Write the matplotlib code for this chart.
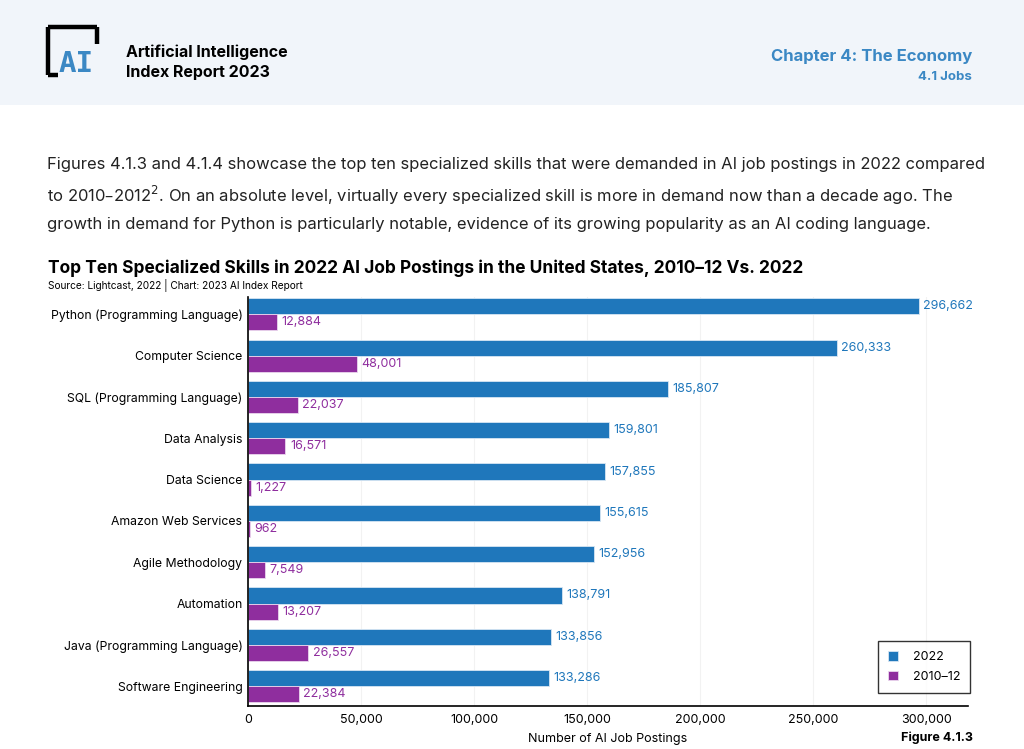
import numpy as np
import matplotlib
matplotlib.use("Agg")
import matplotlib.pyplot as plt
from matplotlib.patches import Rectangle
from matplotlib.lines import Line2D

plt.rcParams['font.family'] = ['Inter', 'DejaVu Sans']

skills = ["Python (Programming Language)", "Computer Science", "SQL (Programming Language)",
          "Data Analysis", "Data Science", "Amazon Web Services", "Agile Methodology",
          "Automation", "Java (Programming Language)", "Software Engineering"]
postings_2022 = [296662, 260333, 185807, 159801, 157855, 155615, 152956, 138791, 133856, 133286]
postings_2010 = [12884, 48001, 22037, 16571, 1227, 962, 7549, 13207, 26557, 22384]

BLUE = "#1f77bb"
PURPLE = "#8f2e9e"
HEAD_BLUE = "#3b88c4"

fig = plt.figure(figsize=(10.24, 7.49), dpi=100)
W, H = 1024, 749

def fx(x):
    return x / W

def fy(y):
    return 1 - y / H

# header band
fig.patches.append(Rectangle((0, fy(105)), 1, 105 / H, transform=fig.transFigure,
                             facecolor="#f1f5fa", edgecolor="none", zorder=0))

# logo
logo = [((48, 27), (48, 75)), ((48, 27), (97, 27)), ((97, 27), (97, 44)), ((48, 75), (58, 75))]
for (x0, y0), (x1, y1) in logo:
    fig.add_artist(Line2D([fx(x0), fx(x1)], [fy(y0), fy(y1)], color="black", lw=3.2,
                          solid_capstyle="butt", transform=fig.transFigure))
fig.text(fx(59), fy(64), "AI", fontsize=21, fontweight="bold", color=HEAD_BLUE,
         family="DejaVu Sans Mono", va="center", ha="left")

fig.text(fx(126), fy(52), "Artificial Intelligence", fontsize=11.5, fontweight="bold", va="center")
fig.text(fx(126), fy(72), "Index Report 2023", fontsize=11.5, fontweight="bold", va="center")
fig.text(fx(972), fy(56), "Chapter 4: The Economy", fontsize=12, fontweight="bold",
         color=HEAD_BLUE, ha="right", va="center")
fig.text(fx(972), fy(77), "4.1 Jobs", fontsize=9.5, fontweight="bold", color=HEAD_BLUE,
         ha="right", va="center")

para = ["Figures 4.1.3 and 4.1.4 showcase the top ten specialized skills that were demanded in AI job postings in 2022 compared",
        "to 2010\u20132012$^{2}$. On an absolute level, virtually every specialized skill is more in demand now than a decade ago. The",
        "growth in demand for Python is particularly notable, evidence of its growing popularity as an AI coding language."]
for i, line in enumerate(para):
    fig.text(fx(47), fy(165 + 30 * i), line, fontsize=11.95, color="#222222", va="center")

fig.text(fx(48), fy(268), "Top Ten Specialized Skills in 2022 AI Job Postings in the United States, 2010\u201312 Vs. 2022",
         fontsize=12.5, fontweight="bold", va="center")
fig.text(fx(48), fy(286), "Source: Lightcast, 2022 | Chart: 2023 AI Index Report", fontsize=7.3, va="center")

ax = fig.add_axes([fx(248), fy(706), (968 - 248) / W, (706 - 297) / H])
y = np.arange(len(skills))
h = 0.39
b1 = ax.barh(y - h / 2, postings_2022, height=h, color=BLUE, edgecolor="#d6e6f3", lw=0.6, label="2022")
b2 = ax.barh(y + h / 2, postings_2010, height=h, color=PURPLE, edgecolor="#ead6ee", lw=0.6, label="2010\u201312")

for rect, v in zip(b1, postings_2022):
    ax.text(v + 2000, rect.get_y() + rect.get_height() / 2, f"{v:,}", color=BLUE,
            fontsize=9, va="center")
for rect, v in zip(b2, postings_2010):
    ax.text(v + 2000, rect.get_y() + rect.get_height() / 2, f"{v:,}", color=PURPLE,
            fontsize=9, va="center")

ax.set_xlim(0, 318500)
ax.set_ylim(9.48, -0.42)
ax.set_yticks(y)
ax.set_yticklabels(skills, fontsize=8.8)
ax.set_xticks(np.arange(0, 300001, 50000))
ax.set_xticklabels([f"{t:,}" for t in range(0, 300001, 50000)], fontsize=9)
ax.tick_params(axis="y", length=0, pad=4)
ax.tick_params(axis="x", length=0, pad=6)
ax.set_xlabel("Number of AI Job Postings", fontsize=9, labelpad=5)
ax.grid(axis="x", color="#f2f2f2", lw=0.8)
ax.set_axisbelow(True)
for s in ["top", "right"]:
    ax.spines[s].set_visible(False)
ax.spines["left"].set_linewidth(1.2)
ax.spines["bottom"].set_linewidth(1.2)

leg = ax.legend(loc="lower right", bbox_to_anchor=(1.003, 0.032), borderaxespad=0, fontsize=9,
                frameon=True, fancybox=False, edgecolor="black", handlelength=0.8, handleheight=0.8,
                borderpad=0.8, labelspacing=0.6, handletextpad=1.2)
leg.get_frame().set_linewidth(1.0)

fig.text(fx(973), fy(738), "Figure 4.1.3", fontsize=9, fontweight="bold", ha="right", va="center")

fig.savefig("out.png", dpi=100)
